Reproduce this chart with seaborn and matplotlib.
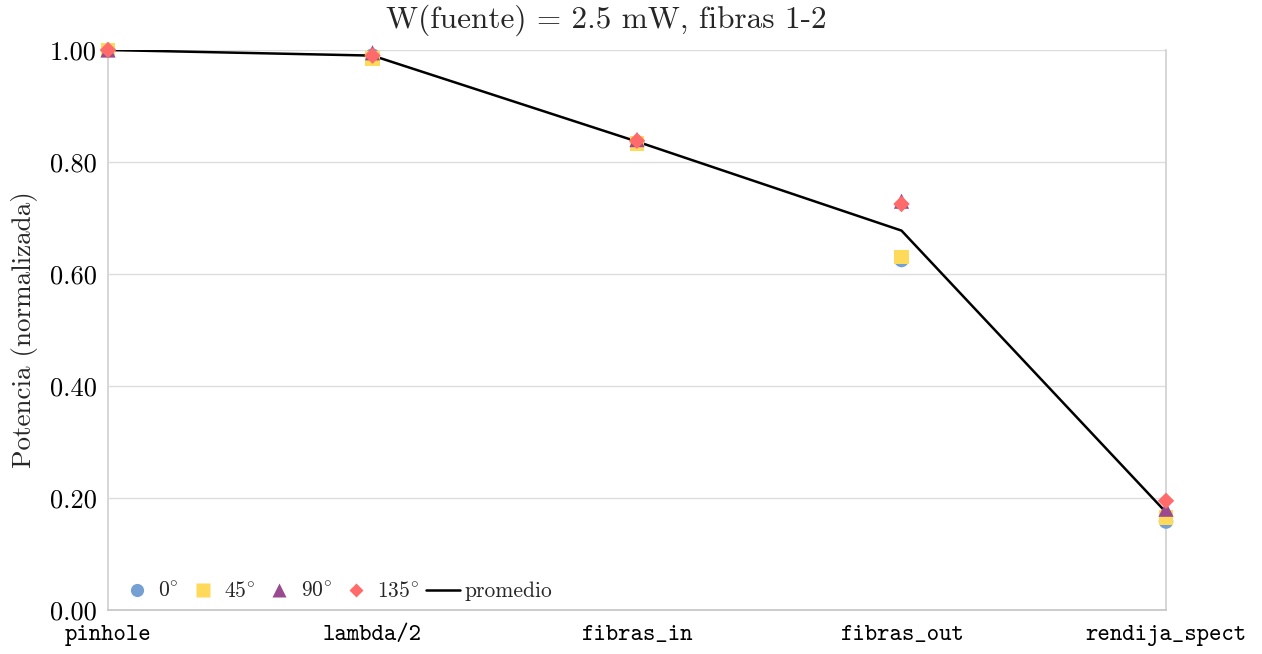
import numpy as np
import pandas as pd
import matplotlib
matplotlib.use("Agg")
import matplotlib.pyplot as plt
from matplotlib.ticker import FormatStrFormatter
from matplotlib.lines import Line2D
import seaborn as sns

# Measurement stages along the optical path
etapas = ["pinhole", "lambda/2", "fibras_in", "fibras_out", "rendija_spect"]

# Normalized power per polarization angle
p_0 = [1.000, 0.990, 0.835, 0.625, 0.158]
p_45 = [1.000, 0.985, 0.833, 0.630, 0.165]
p_90 = [1.000, 0.995, 0.840, 0.730, 0.180]
p_135 = [1.000, 0.990, 0.838, 0.725, 0.195]

angulos = ["0", "45", "90", "135"]
colores = ["#74a0d4", "#ffd95a", "#9a4a8e", "#ff6b6b"]
marcadores = ["o", "s", "^", "D"]

series = [p_0, p_45, p_90, p_135]
df = pd.concat(
    [pd.DataFrame({"etapa": etapas, "potencia": v, "angulo": a})
     for v, a in zip(series, angulos)],
    ignore_index=True,
)
df["x"] = df["etapa"].map({e: i for i, e in enumerate(etapas)})
promedio = df.groupby("x", as_index=False)["potencia"].mean()

sns.set_theme(style="white")
plt.rcParams["font.family"] = ["cmr10", "DejaVu Serif"]
plt.rcParams["mathtext.fontset"] = "cm"
plt.rcParams["axes.unicode_minus"] = False
plt.rcParams["axes.formatter.use_mathtext"] = True

fig = plt.figure(figsize=(12.62, 6.54), dpi=100)
ax = fig.add_axes([108 / 1262, 44 / 654, (1166 - 108) / 1262, 560 / 654])

sns.lineplot(data=promedio, x="x", y="potencia", color="black", lw=1.8,
             ax=ax, zorder=2, legend=False)

sizes = {"o": 110, "s": 105, "^": 120, "D": 70}
for ang, col, mk in zip(angulos, colores, marcadores):
    sub = df[df["angulo"] == ang]
    sns.scatterplot(data=sub, x="x", y="potencia", color=col, marker=mk,
                    s=sizes[mk], edgecolor="none", ax=ax, zorder=3,
                    clip_on=False, legend=False)

ax.set_xlim(0, len(etapas) - 1)
ax.set_ylim(0, 1.0)
ax.set_xticks(range(len(etapas)))
ax.set_xticklabels(etapas, fontfamily="cmtt10", fontsize=17)
ax.set_yticks(np.arange(0, 1.01, 0.2))
ax.yaxis.set_major_formatter(FormatStrFormatter("%.2f"))
for lbl in ax.get_yticklabels():
    lbl.set_fontsize(19)
ax.tick_params(axis="both", length=5, color="#c8c8c8", width=1, pad=3,
               labelcolor="black")
ax.tick_params(axis="x", pad=6)
for name, s in ax.spines.items():
    s.set_visible(name != "top")
    s.set_color("#d0d0d0")
    s.set_linewidth(1.2)
ax.spines["bottom"].set_color("#c4c4c4")
ax.grid(True, axis="y", color="#dddddd", lw=1)
ax.grid(False, axis="x")
ax.set_axisbelow(True)
ax.set_xlabel("")
ax.set_ylabel("Potencia (normalizada)", fontsize=19.5, labelpad=9)

handles = [Line2D([], [], ls="none", marker=m, color=c,
                  markersize=9.5 if m != "D" else 7.5,
                  markeredgecolor="none", label=a + r"$^{\circ}$")
           for a, c, m in zip(angulos, colores, marcadores)]
handles.append(Line2D([], [], color="black", lw=1.8, label="promedio"))
leg = ax.legend(handles=handles, loc="lower left", ncol=5, frameon=False,
                bbox_to_anchor=(0.005, 0.004), fontsize=15.5, handletextpad=0.2,
                columnspacing=0.3, handlelength=1.6, borderaxespad=0.0,
                borderpad=0.3)

fig.text(606 / 1262, 1 - 20 / 654, "W(fuente) = 2.5 mW, fibras 1-2",
         ha="center", va="center", fontsize=22.5)

fig.savefig("out.png", dpi=100)
